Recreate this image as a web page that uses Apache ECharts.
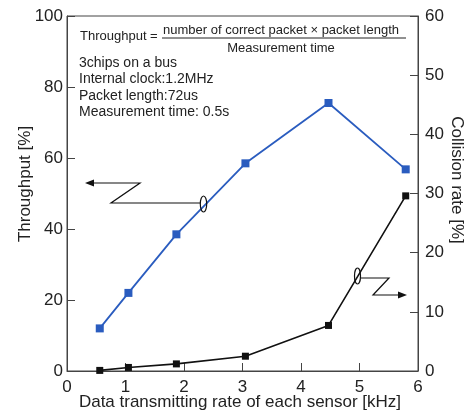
<!DOCTYPE html>
<html>
<head>
<meta charset="utf-8">
<script src="https://cdn.jsdelivr.net/npm/echarts@6/dist/echarts.min.js"></script>
<style>
  html, body { margin: 0; padding: 0; background: #fff; }
  #chart { width: 467px; height: 412px; }
</style>
</head>
<body>
<div id="chart"></div>
<script>
// Data transmitting rate of each sensor [kHz]
const rates = [0.56, 1.05, 1.87, 3.05, 4.47, 5.79];
// Throughput [%] (left axis)
const throughput = [12, 22, 38.5, 58.5, 75.5, 56.8];
// Collision rate [%] (right axis)
const collision = [0.1, 0.6, 1.2, 2.5, 7.7, 29.6];

const xTicks = [0, 1, 2, 3, 4, 5, 6];
const leftTicks = [0, 20, 40, 60, 80, 100];
const rightTicks = [0, 10, 20, 30, 40, 50, 60];

const FONT = '"Liberation Sans", Arial, Helvetica, sans-serif';
const INK = '#222';
const AXIS = '#444';

const chart = echarts.init(document.getElementById('chart'), null, { renderer: 'canvas' });

const tickStyle = { show: true, inside: true, length: 8, lineStyle: { color: AXIS, width: 1 } };
const labelStyle = { color: INK, fontSize: 17, fontFamily: FONT };

const option = {
  backgroundColor: '#fff',
  animation: false,
  grid: {
    left: 67, right: 49, top: 16, bottom: 41,
    containLabel: false,
    outerBoundsMode: 'none',
    show: true, borderColor: AXIS, borderWidth: 1, backgroundColor: 'transparent'
  },
  xAxis: {
    type: 'value',
    min: xTicks[0], max: xTicks[xTicks.length - 1], interval: 1,
    axisLine: { show: true, onZero: false, lineStyle: { color: AXIS, width: 1 } },
    axisTick: tickStyle,
    splitLine: { show: false },
    axisLabel: Object.assign({ margin: 8 }, labelStyle)
  },
  yAxis: [
    {
      type: 'value', position: 'left',
      min: leftTicks[0], max: leftTicks[leftTicks.length - 1], interval: 20,
      axisLine: { show: true, lineStyle: { color: AXIS, width: 1 } },
      axisTick: tickStyle,
      splitLine: { show: false },
      axisLabel: Object.assign({ margin: 4 }, labelStyle)
    },
    {
      type: 'value', position: 'right',
      min: rightTicks[0], max: rightTicks[rightTicks.length - 1], interval: 10,
      axisLine: { show: true, lineStyle: { color: AXIS, width: 1 } },
      axisTick: tickStyle,
      splitLine: { show: false },
      axisLabel: Object.assign({ margin: 7 }, labelStyle)
    }
  ],
  series: [
    {
      name: 'Throughput',
      type: 'line',
      yAxisIndex: 0,
      data: rates.map((r, i) => [r, throughput[i]]),
      symbol: 'rect', symbolSize: 8,
      lineStyle: { color: '#2a5cbf', width: 1.8 },
      itemStyle: { color: '#2a5cbf' },
      z: 3
    },
    {
      name: 'Collision rate',
      type: 'line',
      yAxisIndex: 1,
      data: rates.map((r, i) => [r, collision[i]]),
      symbol: 'rect', symbolSize: 7,
      lineStyle: { color: '#111', width: 1.6 },
      itemStyle: { color: '#111' },
      z: 3
    }
  ],
  graphic: [
    // axis titles
    {
      type: 'text', x: 240, y: 402,
      style: { text: 'Data transmitting rate of each sensor [kHz]', fill: INK, font: '17px ' + FONT, textAlign: 'center', textVerticalAlign: 'middle' }
    },
    {
      type: 'text', x: 25, y: 184, rotation: Math.PI / 2,
      style: { text: 'Throughput [%]', fill: INK, font: '17px ' + FONT, textAlign: 'center', textVerticalAlign: 'middle' }
    },
    {
      type: 'text', x: 457, y: 180, rotation: -Math.PI / 2,
      style: { text: 'Collision rate [%]', fill: INK, font: '17px ' + FONT, textAlign: 'center', textVerticalAlign: 'middle' }
    },
    // definition of throughput
    {
      type: 'text', x: 80, y: 36,
      style: { text: 'Throughput =', fill: INK, font: '13px ' + FONT, textAlign: 'left', textVerticalAlign: 'middle' }
    },
    {
      type: 'text', x: 281, y: 30,
      style: { text: 'number of correct packet \u00d7 packet length', fill: INK, font: '13px ' + FONT, textAlign: 'center', textVerticalAlign: 'middle' }
    },
    {
      type: 'line', shape: { x1: 162, y1: 38, x2: 406, y2: 38 },
      style: { stroke: INK, lineWidth: 1 }
    },
    {
      type: 'text', x: 281, y: 48,
      style: { text: 'Measurement time', fill: INK, font: '13px ' + FONT, textAlign: 'center', textVerticalAlign: 'middle' }
    },
    // measurement conditions
    {
      type: 'text', x: 79, y: 55,
      style: {
        text: '3chips on a bus\nInternal clock:1.2MHz\nPacket length:72us\nMeasurement time: 0.5s',
        fill: INK, font: '14px ' + FONT, lineHeight: 16.4, textAlign: 'left', textVerticalAlign: 'top'
      }
    },
    // pointer to the left axis
    {
      type: 'polyline', shape: { points: [[92, 183], [140, 183], [111, 203], [200, 203]] },
      style: { stroke: '#111', fill: null, lineWidth: 1.2 }
    },
    {
      type: 'polygon', shape: { points: [[85, 183], [94, 179.5], [94, 186.5]] },
      style: { fill: '#111' }
    },
    {
      type: 'ellipse', shape: { cx: 203.5, cy: 204, rx: 3.2, ry: 8 },
      style: { stroke: '#111', fill: null, lineWidth: 1.2 }, z: 10
    },
    // pointer to the right axis
    {
      type: 'polyline', shape: { points: [[361, 278], [389, 278], [373, 295], [400, 295]] },
      style: { stroke: '#111', fill: null, lineWidth: 1.2 }
    },
    {
      type: 'polygon', shape: { points: [[407, 295], [398, 291.5], [398, 298.5]] },
      style: { fill: '#111' }
    },
    {
      type: 'ellipse', shape: { cx: 357.5, cy: 276, rx: 3, ry: 8 },
      style: { stroke: '#111', fill: null, lineWidth: 1.2 }, z: 10
    }
  ]
};

chart.setOption(option);
</script>
</body>
</html>
